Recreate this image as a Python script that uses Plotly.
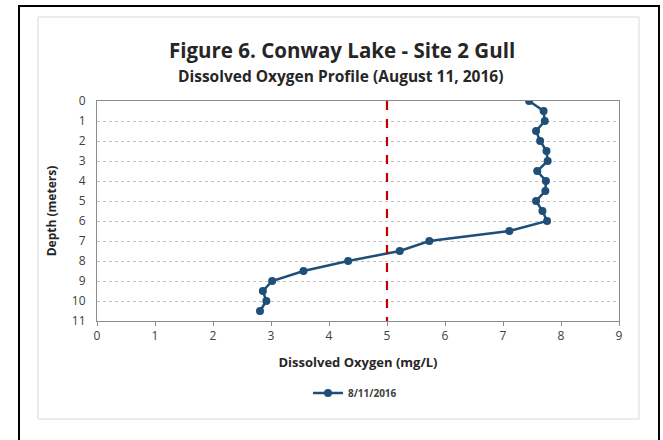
import plotly.graph_objects as go

depth = [0, 0.5, 1, 1.5, 2, 2.5, 3, 3.5, 4, 4.5, 5, 5.5, 6, 6.5, 7, 7.5, 8, 8.5, 9, 9.5, 10, 10.5]
do_mgl = [7.45, 7.70, 7.72, 7.57, 7.64, 7.75, 7.77, 7.59, 7.74, 7.73, 7.57, 7.68, 7.76,
          7.11, 5.73, 5.22, 4.33, 3.56, 3.02, 2.86, 2.92, 2.81]
series_name = "8/11/2016"
threshold = 5
x_ticks = list(range(0, 10))
y_ticks = list(range(0, 12))

W, H = 663, 440
L, R, T, B = 97, 619, 101, 321

def px(x):
    return (x - L) / (R - L)

def py(y):
    return (B - y) / (B - T)

fig = go.Figure()
fig.add_trace(go.Scatter(
    x=do_mgl, y=depth, mode="lines+markers", name=series_name,
    line=dict(color="#1F4E79", width=2.5),
    marker=dict(color="#1F4E79", size=8),
))
fig.add_trace(go.Scatter(
    x=[threshold, threshold], y=[0, 11], mode="lines", showlegend=False,
    line=dict(color="#C00000", width=2.2, dash="dash"), hoverinfo="skip",
))

font = "Open Sans, Liberation Sans, sans-serif"
fig.update_layout(
    width=W, height=H,
    margin=dict(l=L, r=W - R, t=T, b=H - B),
    paper_bgcolor="white", plot_bgcolor="white",
    showlegend=True,
    legend=dict(orientation="h", x=px(355), xanchor="center", y=py(393), yanchor="middle",
                font=dict(family=font, size=10, color="#404040", weight="bold"),
                bgcolor="rgba(0,0,0,0)", itemwidth=30),
    xaxis=dict(range=[0, 9], tickvals=x_ticks, showline=True, mirror=True, linecolor="#8C8C8C",
               linewidth=1, showgrid=False, zeroline=False, ticks="outside", ticklen=4,
               tickcolor="#8C8C8C", tickfont=dict(family=font, size=12, color="#404040"),
               title=dict(text="<b>Dissolved Oxygen (mg/L)</b>", standoff=14,
                          font=dict(family=font, size=13, color="#262626"))),
    yaxis=dict(range=[11, 0], tickvals=y_ticks, showline=True, mirror=True, linecolor="#8C8C8C",
               linewidth=1, showgrid=True, gridcolor="#BFBFBF", griddash="dot", gridwidth=1,
               zeroline=False, ticks="", ticklabelstandoff=8,
               tickfont=dict(family=font, size=12, color="#404040"),
               title=dict(text="<b>Depth (meters)</b>", standoff=12,
                          font=dict(family=font, size=12, color="#262626"))),
    annotations=[
        dict(text="<b>Figure 6. Conway Lake - Site 2 Gull</b>", x=px(342), y=py(50),
             xref="paper", yref="paper", showarrow=False, xanchor="center", yanchor="middle",
             font=dict(family=font, size=20.5, color="#262626")),
        dict(text="<b>Dissolved Oxygen Profile (August 11, 2016)</b>", x=px(340), y=py(76),
             xref="paper", yref="paper", showarrow=False, xanchor="center", yanchor="middle",
             font=dict(family=font, size=15.5, color="#262626")),
    ],
    shapes=[
        dict(type="rect", xref="paper", yref="paper", x0=px(19), x1=px(659), y0=py(446), y1=py(6),
             line=dict(color="black", width=2), layer="below"),
        dict(type="rect", xref="paper", yref="paper", x0=px(38), x1=px(639), y0=py(419), y1=py(17),
             line=dict(color="#D9D9D9", width=1), layer="below"),
    ],
)

fig.write_html("out.html", config={"displayModeBar": False},
               post_script="document.body.style.margin='0';document.body.style.overflow='hidden';")
